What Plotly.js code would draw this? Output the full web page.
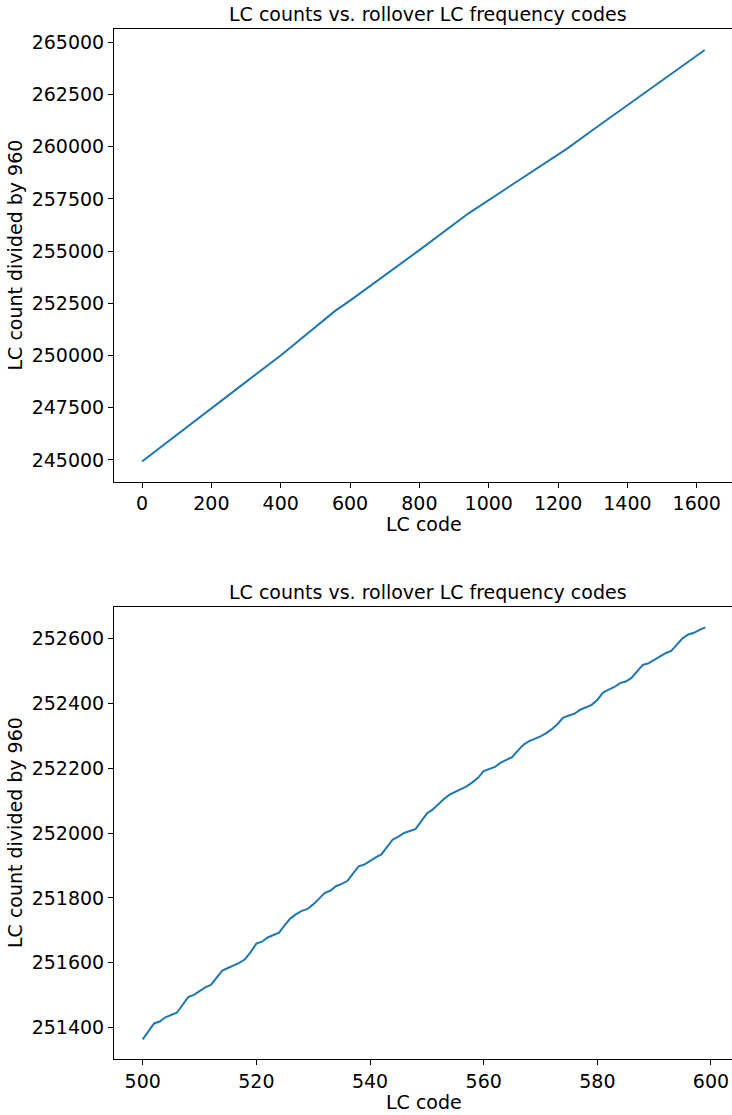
<!DOCTYPE html>
<html>
<head>
<meta charset="utf-8">
<script src="https://cdn.plot.ly/plotly-3.0.1.min.js"></script>
<style>
  html, body { margin: 0; padding: 0; background: #fff; overflow: hidden; }
  #chart { width: 741px; height: 1115px; }
</style>
</head>
<body>
<div id="chart"></div>
<script>
// Full sweep: LC code vs. count / 960 (sampled along the curve)
const fullCodes = [0, 100, 200, 300, 400, 500, 557, 600, 700, 800, 941, 1000, 1100, 1225, 1300, 1400, 1500, 1623];
const fullCounts = [244930, 246210, 247480, 248740, 250000, 251364, 252140, 252630, 253830, 255050,
                    256800, 257450, 258550, 259900, 260800, 261990, 263160, 264630];

// Detail window: codes 500..599
const detailCodes = [];
for (let c = 500; c <= 599; c++) detailCodes.push(c);
const detailCounts = [
  251364, 251390, 251413, 251419, 251432, 251439, 251446, 251470, 251494, 251501,
  251512, 251524, 251532, 251554, 251576, 251584, 251592, 251600, 251611, 251633,
  251659, 251665, 251678, 251686, 251693, 251716, 251737, 251750, 251760, 251766,
  251780, 251797, 251815, 251822, 251836, 251843, 251852, 251875, 251897, 251903,
  251915, 251925, 251934, 251958, 251980, 251989, 252000, 252006, 252012, 252036,
  252060, 252072, 252090, 252105, 252118, 252127, 252134, 252144, 252156, 252170,
  252191, 252198, 252204, 252217, 252226, 252234, 252254, 252272, 252283, 252290,
  252298, 252308, 252320, 252336, 252356, 252362, 252368, 252380, 252388, 252395,
  252410, 252433, 252442, 252450, 252462, 252467, 252478, 252498, 252518, 252523,
  252534, 252543, 252554, 252561, 252580, 252600, 252612, 252617, 252626, 252634
];

const chartTitle = 'LC counts vs. rollover LC frequency codes';
const xLabel = 'LC code';
const yLabel = 'LC count divided by 960';

const FONT = 'DejaVu Sans, Verdana, sans-serif';
const BLUE = '#1f77b4';

const axisCommon = {
  showline: true, linecolor: '#000', linewidth: 1,
  ticks: 'outside', ticklen: 5, tickwidth: 1, tickcolor: '#000',
  showgrid: false, zeroline: false,
  tickfont: { family: FONT, size: 19, color: '#000' },
  tickformat: 'd'
};

const traces = [
  { x: fullCodes, y: fullCounts, xaxis: 'x', yaxis: 'y', type: 'scatter', mode: 'lines',
    line: { color: BLUE, width: 2 }, hoverinfo: 'skip' },
  { x: detailCodes, y: detailCounts, xaxis: 'x2', yaxis: 'y2', type: 'scatter', mode: 'lines',
    line: { color: BLUE, width: 2 }, hoverinfo: 'skip' }
];

// pixel helpers for the paper coordinate system (plot area 114..741 x 29..1059)
const L = 114, T = 29, W = 627, H = 1030;
const px = v => (v - L) / W;
const py = v => (T + H - v) / H;

const annText = (text, x, y, extra) => Object.assign({
  text: text, xref: 'paper', yref: 'paper', x: px(x), y: py(y),
  xanchor: 'center', yanchor: 'middle', showarrow: false,
  font: { family: FONT, size: 19, color: '#000' }
}, extra || {});

const layout = {
  width: 741, height: 1115,
  margin: { l: L, r: 0, t: T, b: 56 },
  paper_bgcolor: '#fff', plot_bgcolor: '#fff',
  showlegend: false,
  xaxis: Object.assign({}, axisCommon, { domain: [0, 1], anchor: 'y', range: [-80.8, 1727.7], dtick: 200, tick0: 0, mirror: true }),
  yaxis: Object.assign({}, axisCommon, { domain: [0.5605, 1], anchor: 'x', range: [243961, 265637], dtick: 2500, tick0: 0 }),
  xaxis2: Object.assign({}, axisCommon, { domain: [0, 1], anchor: 'y2', range: [494.95, 605.28], dtick: 20, tick0: 0, mirror: true }),
  yaxis2: Object.assign({}, axisCommon, { domain: [0, 0.4391], anchor: 'x2', range: [251303.5, 252697.4], dtick: 200, tick0: 0 }),
  annotations: [
    annText(chartTitle, 427.5, 14),
    annText(chartTitle, 427.5, 592),
    annText(xLabel, 424, 524),
    annText(xLabel, 424, 1102),
    annText(yLabel, 15, 255.5, { textangle: -90 }),
    annText(yLabel, 15, 833, { textangle: -90 })
  ]
};

Plotly.newPlot('chart', traces, layout, { displayModeBar: false, staticPlot: true });
</script>
</body>
</html>
